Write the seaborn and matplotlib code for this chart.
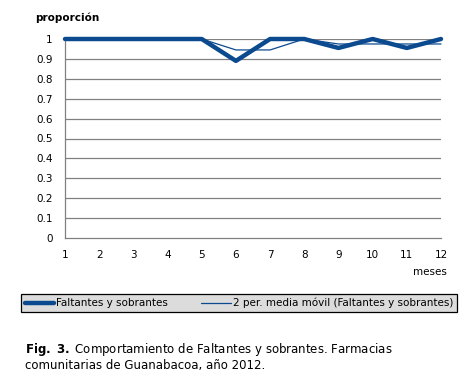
import pandas as pd
import seaborn as sns
import matplotlib.pyplot as plt

meses = [1, 2, 3, 4, 5, 6, 7, 8, 9, 10, 11, 12]
faltantes = [1, 1, 1, 1, 1, 0.89, 1, 1, 0.955, 1, 0.955, 1]
# 2 per. media movil (no value for month 1)
media_movil = [None, 1, 1, 1, 1, 0.945, 0.945, 1, 0.975, 0.975, 0.975, 0.975]

y_ticks = [0, 0.1, 0.2, 0.3, 0.4, 0.5, 0.6, 0.7, 0.8, 0.9, 1]
y_labels = ["0", "0.1", "0.2", "0.3", "0.4", "0.5", "0.6", "0.7", "0.8", "0.9", "1"]

df = pd.DataFrame({"mes": meses, "faltantes": faltantes, "movil": media_movil})

sns.set_style("white")
plt.rcParams["font.family"] = ["DejaVu Sans"]
plt.rcParams["text.color"] = "black"
plt.rcParams["xtick.color"] = "black"
plt.rcParams["ytick.color"] = "black"

azul = "#0b4a8e"
gris = "#808080"

fig = plt.figure(figsize=(4.74, 3.76), dpi=100)
ax = fig.add_axes([65 / 474, 1 - 238 / 376, (441 - 65) / 474, (238 - 39) / 376])

sns.lineplot(data=df, x="mes", y="faltantes", ax=ax, color=azul, linewidth=3.2,
             label="Faltantes y sobrantes", legend=False, clip_on=False, zorder=4)
sns.lineplot(data=df.dropna(), x="mes", y="movil", ax=ax, color=azul, linewidth=0.9,
             label="2 per. media móvil (Faltantes y sobrantes)", legend=False,
             clip_on=False, zorder=5)

ax.set_xlim(1, 12)
ax.set_ylim(0, 1)
ax.set_xticks(meses)
ax.set_xticklabels([str(m) for m in meses], fontsize=7.5)
ax.set_yticks(y_ticks)
ax.set_yticklabels(y_labels, fontsize=7.5)
ax.tick_params(axis="both", length=0, pad=9, colors="black")
ax.set_xlabel("")
ax.set_ylabel("")

for y in y_ticks[1:]:
    ax.axhline(y, color=gris, linewidth=0.9, zorder=0)

for side in ["top", "right"]:
    ax.spines[side].set_visible(False)
for side in ["left", "bottom"]:
    ax.spines[side].set_color(gris)
    ax.spines[side].set_linewidth(0.9)

fig.text(35 / 474, 1 - 18 / 376, "proporción", fontsize=7.5, fontweight="bold",
         ha="left", va="center")
fig.text(447 / 474, 1 - 272 / 376, "meses", fontsize=7.5, ha="right", va="center")

handles, labels = ax.get_legend_handles_labels()
leg = fig.legend(handles, labels, loc="center", bbox_to_anchor=(239 / 474, 1 - 303 / 376),
                 ncol=2, fontsize=7.5, frameon=True, fancybox=False, framealpha=1,
                 facecolor="#dcdcdc", edgecolor="black", handlelength=2.8,
                 handletextpad=0.2, columnspacing=3.2, borderpad=0.35, borderaxespad=0)
leg.get_frame().set_linewidth(0.9)

fig.text(25 / 474, 1 - 350 / 376, r"$\bf{Fig.\ 3.}$ Comportamiento de Faltantes y sobrantes. Farmacias",
         fontsize=8.5, ha="left", va="center")
fig.text(25 / 474, 1 - 366 / 376, "comunitarias de Guanabacoa, año 2012.",
         fontsize=8.5, ha="left", va="center")

fig.savefig("out.png", dpi=100)
